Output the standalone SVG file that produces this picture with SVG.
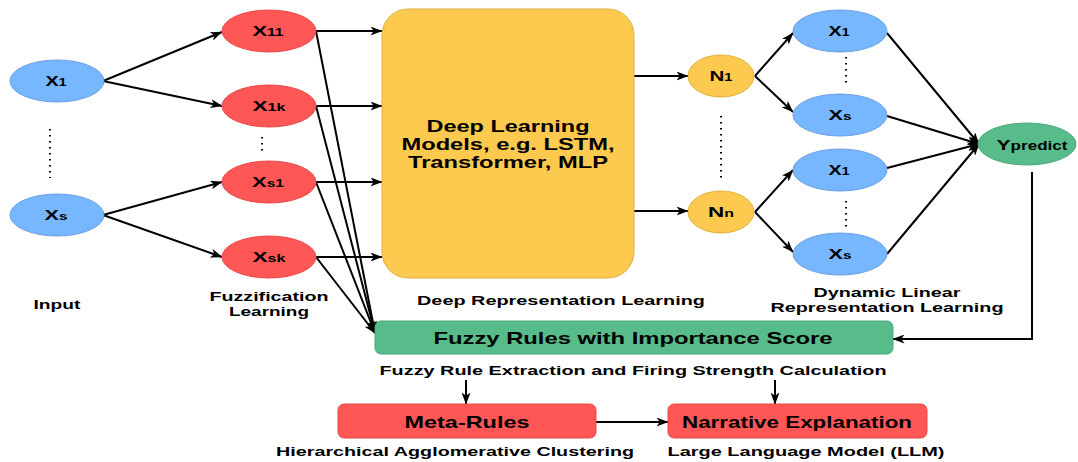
<svg xmlns="http://www.w3.org/2000/svg" width="1078" height="462" viewBox="0 0 1078 462">
<style>
text{font-family:"Liberation Sans",Arial,sans-serif;font-weight:bold;fill:#000;}
.lbl{font-size:13.5px;text-anchor:middle;}
.nl{font-size:17px;text-anchor:middle;}
.nd{font-size:15.5px;text-anchor:middle;}
.sub{font-size:11px;}
.blue{fill:#77b7ff;stroke:#6a9fe6;stroke-width:1;}
.red{fill:#ff5656;stroke:#e84a4a;stroke-width:1;}
.yel{fill:#fdc94f;stroke:#e0b040;stroke-width:1;}
.grn{fill:#57bb8a;stroke:#4ba878;stroke-width:1;}
.ln{fill:none;stroke:#000;stroke-width:2;}
.ar{marker-end:url(#a);}
.dot{stroke:#000;stroke-width:2;stroke-dasharray:1.5 4.5;fill:none;}
</style>
<defs>
<marker id="a" viewBox="0 0 12 9" refX="11.5" refY="4.5" markerWidth="12" markerHeight="9" markerUnits="userSpaceOnUse" orient="auto">
<path d="M0,0 L12,4.5 L0,9 L3.2,4.5 z" fill="#000"/>
</marker>
</defs>
<rect width="1078" height="462" fill="#fff"/>

<g id="connectors">
<path class="ln ar" d="M103,81 L222,32"/>
<path class="ln ar" d="M103,81 L222,106"/>
<path class="ln ar" d="M103,215 L222,182"/>
<path class="ln ar" d="M103,215 L222,257"/>
<path class="ln ar" d="M316,31 L382,31"/>
<path class="ln ar" d="M316,106 L382,106"/>
<path class="ln ar" d="M316,182 L382,182"/>
<path class="ln ar" d="M316,257 L382,257"/>
<path class="ln ar" d="M316,31 L375,333"/>
<path class="ln ar" d="M316,106 L375,333"/>
<path class="ln ar" d="M316,182 L375,333"/>
<path class="ln ar" d="M316,257 L375,333"/>
<path class="ln ar" d="M634,76 L688,76"/>
<path class="ln ar" d="M634,211 L688,211"/>
<path class="ln ar" d="M755,76 L793,33"/>
<path class="ln ar" d="M755,76 L793,112"/>
<path class="ln ar" d="M755,212 L793,170"/>
<path class="ln ar" d="M755,212 L793,252"/>
<path class="ln ar" d="M887,33 L979,144"/>
<path class="ln ar" d="M887,116 L979,144"/>
<path class="ln ar" d="M887,168 L979,144"/>
<path class="ln ar" d="M887,254 L979,144"/>
<path class="ln ar" d="M1032,172 L1032,339 L893,339"/>
<path class="ln ar" d="M466,380 L466,404"/>
<path class="ln ar" d="M775,380 L775,404"/>
<path class="ln ar" d="M596,422 L668,422"/>
<path class="dot" d="M50,129 L50,178"/>
<path class="dot" d="M262,137 L262,153"/>
<path class="dot" d="M721,116 L721,178"/>
<path class="dot" d="M846,57 L846,86"/>
<path class="dot" d="M846,201 L846,231"/>
</g>

<g id="in-x1"><ellipse class="blue" cx="57" cy="81" rx="47" ry="21"/><text class="nd" x="56" y="86" textLength="21" lengthAdjust="spacingAndGlyphs">X<tspan class="sub">1</tspan></text></g>
<g id="in-xs"><ellipse class="blue" cx="57" cy="215" rx="47" ry="21"/><text class="nd" x="56" y="220" textLength="23" lengthAdjust="spacingAndGlyphs">X<tspan class="sub">s</tspan></text></g>

<g id="f-x11"><ellipse class="red" cx="269" cy="31" rx="47" ry="21"/><text class="nd" x="268" y="36" textLength="31" lengthAdjust="spacingAndGlyphs">X<tspan class="sub">11</tspan></text></g>
<g id="f-x1k"><ellipse class="red" cx="269" cy="106" rx="47" ry="21"/><text class="nd" x="269" y="111" textLength="33" lengthAdjust="spacingAndGlyphs">X<tspan class="sub">1k</tspan></text></g>
<g id="f-xs1"><ellipse class="red" cx="269" cy="182" rx="47" ry="21"/><text class="nd" x="268" y="187" textLength="32" lengthAdjust="spacingAndGlyphs">X<tspan class="sub">s1</tspan></text></g>
<g id="f-xsk"><ellipse class="red" cx="269" cy="257" rx="47" ry="21"/><text class="nd" x="269" y="262" textLength="33" lengthAdjust="spacingAndGlyphs">X<tspan class="sub">sk</tspan></text></g>

<g id="deep"><rect class="yel" x="382" y="9" width="252" height="269" rx="26"/>
<text class="nl" x="508" y="132" textLength="163" lengthAdjust="spacingAndGlyphs">Deep Learning</text>
<text class="nl" x="508" y="150" textLength="213" lengthAdjust="spacingAndGlyphs">Models, e.g. LSTM,</text>
<text class="nl" x="508" y="168" textLength="200" lengthAdjust="spacingAndGlyphs">Transformer, MLP</text>
</g>

<g id="n1"><ellipse class="yel" cx="721" cy="76" rx="33" ry="21"/><text class="nd" x="721" y="81" textLength="23" lengthAdjust="spacingAndGlyphs">N<tspan class="sub">1</tspan></text></g>
<g id="nn"><ellipse class="yel" cx="721" cy="212" rx="33" ry="21"/><text class="nd" x="721" y="217" textLength="26" lengthAdjust="spacingAndGlyphs">N<tspan class="sub">n</tspan></text></g>

<g id="d-x1a"><ellipse class="blue" cx="840" cy="31" rx="47" ry="21"/><text class="nd" x="839" y="36" textLength="21" lengthAdjust="spacingAndGlyphs">X<tspan class="sub">1</tspan></text></g>
<g id="d-xsa"><ellipse class="blue" cx="840" cy="115" rx="47" ry="21"/><text class="nd" x="840" y="120" textLength="23" lengthAdjust="spacingAndGlyphs">X<tspan class="sub">s</tspan></text></g>
<g id="d-x1b"><ellipse class="blue" cx="840" cy="170" rx="47" ry="21"/><text class="nd" x="839" y="175" textLength="21" lengthAdjust="spacingAndGlyphs">X<tspan class="sub">1</tspan></text></g>
<g id="d-xsb"><ellipse class="blue" cx="840" cy="254" rx="47" ry="21"/><text class="nd" x="840" y="259" textLength="23" lengthAdjust="spacingAndGlyphs">X<tspan class="sub">s</tspan></text></g>

<g id="ypredict"><ellipse class="grn" cx="1027" cy="144" rx="49" ry="21"/><text class="nd" x="1032" y="150" textLength="71" lengthAdjust="spacingAndGlyphs">Y<tspan style="font-size:12.5px">predict</tspan></text></g>

<g id="fuzzy-rules"><rect class="grn" x="375" y="321" width="518" height="33" rx="6"/>
<text class="nl" x="633" y="344" textLength="399" lengthAdjust="spacingAndGlyphs">Fuzzy Rules with Importance Score</text></g>

<g id="meta-rules"><rect class="red" x="338" y="404" width="258" height="34" rx="6"/>
<text class="nl" x="467" y="428" textLength="125" lengthAdjust="spacingAndGlyphs">Meta-Rules</text></g>

<g id="narrative"><rect class="red" x="668" y="404" width="259" height="34" rx="6"/>
<text class="nl" x="797" y="428" textLength="230" lengthAdjust="spacingAndGlyphs">Narrative Explanation</text></g>

<g id="labels">
<text class="lbl" x="57" y="309" textLength="47" lengthAdjust="spacingAndGlyphs">Input</text>
<text class="lbl" x="269" y="301" textLength="119" lengthAdjust="spacingAndGlyphs">Fuzzification</text>
<text class="lbl" x="269" y="316" textLength="80" lengthAdjust="spacingAndGlyphs">Learning</text>
<text class="lbl" x="561" y="305" textLength="288" lengthAdjust="spacingAndGlyphs">Deep Representation Learning</text>
<text class="lbl" x="887" y="297" textLength="147" lengthAdjust="spacingAndGlyphs">Dynamic Linear</text>
<text class="lbl" x="887" y="312" textLength="233" lengthAdjust="spacingAndGlyphs">Representation Learning</text>
<text class="lbl" x="633" y="375" textLength="507" lengthAdjust="spacingAndGlyphs">Fuzzy Rule Extraction and Firing Strength Calculation</text>
<text class="lbl" x="455" y="456" textLength="358" lengthAdjust="spacingAndGlyphs">Hierarchical Agglomerative Clustering</text>
<text class="lbl" x="806" y="456" textLength="277" lengthAdjust="spacingAndGlyphs">Large Language Model (LLM)</text>
</g>
</svg>
